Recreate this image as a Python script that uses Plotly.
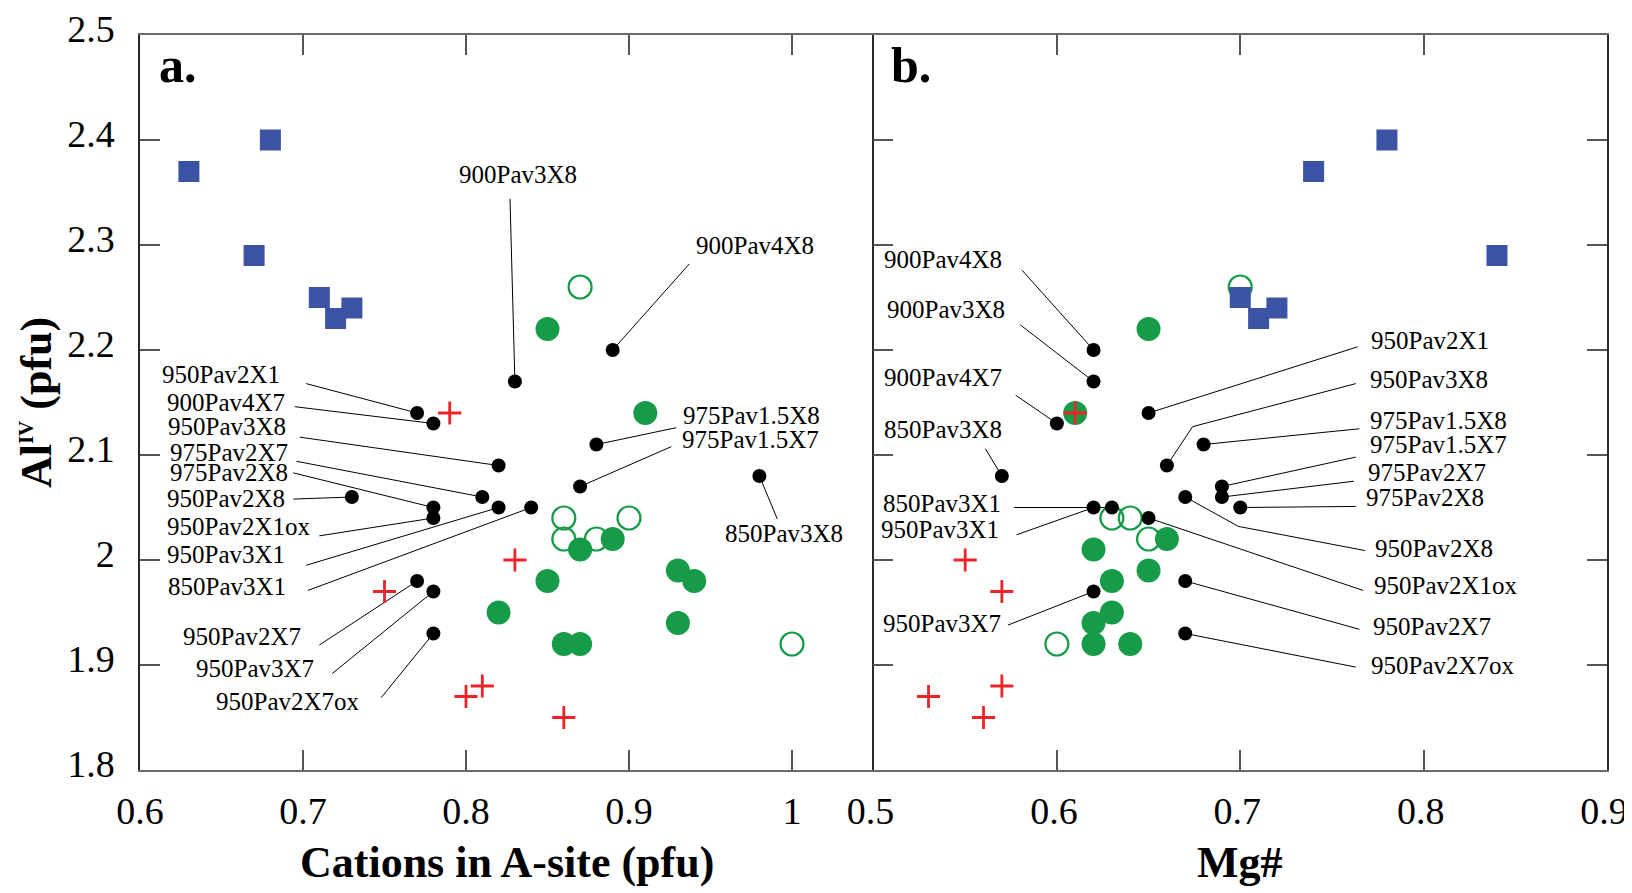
import plotly.graph_objects as go

# ---------------- data ----------------
sample_names = ["900Pav3X8", "900Pav4X8", "950Pav2X1", "900Pav4X7", "950Pav3X8",
                "975Pav2X7", "975Pav2X8", "950Pav2X8", "950Pav2X1ox", "950Pav3X1",
                "850Pav3X1", "950Pav2X7", "950Pav3X7", "950Pav2X7ox", "975Pav1.5X8",
                "975Pav1.5X7", "850Pav3X8"]
sample_cations = [0.83, 0.89, 0.77, 0.78, 0.82, 0.81, 0.78, 0.73, 0.78, 0.82,
                  0.84, 0.77, 0.78, 0.78, 0.88, 0.87, 0.98]
sample_mg = [0.62, 0.62, 0.65, 0.60, 0.66, 0.69, 0.70, 0.67, 0.65, 0.62,
             0.63, 0.67, 0.62, 0.67, 0.68, 0.69, 0.57]
sample_aliv = [2.17, 2.20, 2.14, 2.13, 2.09, 2.06, 2.05, 2.06, 2.04, 2.05,
               2.05, 1.98, 1.97, 1.93, 2.11, 2.07, 2.08]

sq_cations = [0.63, 0.68, 0.67, 0.71, 0.72, 0.73]
sq_mg = [0.74, 0.78, 0.84, 0.70, 0.71, 0.72]
sq_aliv = [2.37, 2.40, 2.29, 2.25, 2.23, 2.24]

gfill_a_cations = [0.85, 0.91, 0.87, 0.89, 0.85, 0.82, 0.93, 0.94, 0.93, 0.86, 0.87]
gfill_a_aliv = [2.22, 2.14, 2.01, 2.02, 1.98, 1.95, 1.99, 1.98, 1.94, 1.92, 1.92]
gopen_a_cations = [0.87, 0.86, 0.90, 0.86, 0.88, 1.00]
gopen_a_aliv = [2.26, 2.04, 2.04, 2.02, 2.02, 1.92]
cross_a_cations = [0.79, 0.83, 0.75, 0.81, 0.80, 0.86]
cross_a_aliv = [2.14, 2.00, 1.97, 1.88, 1.87, 1.85]

gfill_b_mg = [0.65, 0.61, 0.66, 0.62, 0.65, 0.63, 0.63, 0.62, 0.62, 0.64]
gfill_b_aliv = [2.22, 2.14, 2.02, 2.01, 1.99, 1.98, 1.95, 1.94, 1.92, 1.92]
gopen_b_mg = [0.70, 0.63, 0.64, 0.65, 0.60]
gopen_b_aliv = [2.26, 2.04, 2.04, 2.02, 1.92]
cross_b_mg = [0.61, 0.55, 0.57, 0.57, 0.53, 0.56]
cross_b_aliv = [2.14, 2.00, 1.97, 1.88, 1.87, 1.85]

x_a_ticks = [0.6, 0.7, 0.8, 0.9, 1.0]
x_b_ticks = [0.5, 0.6, 0.7, 0.8, 0.9]
y_ticks = [1.8, 1.9, 2.0, 2.1, 2.2, 2.3, 2.4, 2.5]

# ---------------- label layout (text pos, anchor, leader-line waypoints) ----------------
labels_a = {
    "950Pav2X1":   (0.687, 2.177, "right", [(0.702, 2.168)]),
    "900Pav4X7":   (0.690, 2.150, "right", [(0.695, 2.146)]),
    "950Pav3X8":   (0.691, 2.127, "right", [(0.698, 2.117)]),
    "975Pav2X7":   (0.692, 2.102, "right", [(0.696, 2.094)]),
    "975Pav2X8":   (0.692, 2.083, "right", [(0.694, 2.083)]),
    "950Pav2X8":   (0.690, 2.059, "right", [(0.694, 2.058)]),
    "950Pav2X1ox": (0.706, 2.032, "right", [(0.710, 2.023)]),
    "950Pav3X1":   (0.690, 2.005, "right", [(0.702, 1.995)]),
    "850Pav3X1":   (0.691, 1.975, "right", [(0.703, 1.971)]),
    "950Pav2X7":   (0.700, 1.927, "right", [(0.710, 1.919)]),
    "950Pav3X7":   (0.708, 1.897, "right", [(0.718, 1.892)]),
    "950Pav2X7ox": (0.736, 1.865, "right", [(0.748, 1.869)]),
    "900Pav3X8":   (0.832, 2.367, "center", [(0.827, 2.344)]),
    "900Pav4X8":   (0.977, 2.300, "center", [(0.937, 2.282)]),
    "975Pav1.5X8": (0.932, 2.138, "left", [(0.929, 2.126)]),
    "975Pav1.5X7": (0.931, 2.115, "left", [(0.926, 2.108)]),
    "850Pav3X8":   (0.995, 2.025, "center", [(0.991, 2.039)]),
}
labels_b = {
    "900Pav4X8":   (0.5047, 2.286, "left", [(0.581, 2.276)]),
    "900Pav3X8":   (0.5061, 2.239, "left", [(0.580, 2.224)]),
    "900Pav4X7":   (0.5047, 2.174, "left", [(0.5775, 2.157)]),
    "850Pav3X8":   (0.5047, 2.124, "left", [(0.561, 2.106)]),
    "850Pav3X1":   (0.5042, 2.054, "left", [(0.5766, 2.050)]),
    "950Pav3X1":   (0.5028, 2.029, "left", [(0.578, 2.024)]),
    "950Pav3X7":   (0.5042, 1.940, "left", [(0.5733, 1.938)]),
    "950Pav2X1":   (0.7704, 2.209, "left", [(0.764, 2.203)]),
    "950Pav3X8":   (0.7695, 2.172, "left", [(0.763, 2.168), (0.674, 2.127)]),
    "975Pav1.5X8": (0.7695, 2.133, "left", [(0.765, 2.125)]),
    "975Pav1.5X7": (0.7695, 2.110, "left", [(0.763, 2.098)]),
    "975Pav2X7":   (0.7684, 2.083, "left", [(0.762, 2.075)]),
    "975Pav2X8":   (0.7676, 2.060, "left", [(0.763, 2.051)]),
    "950Pav2X8":   (0.7723, 2.011, "left", [(0.768, 2.009), (0.699, 2.032)]),
    "950Pav2X1ox": (0.7718, 1.976, "left", [(0.767, 1.971)]),
    "950Pav2X7":   (0.7712, 1.937, "left", [(0.765, 1.934)]),
    "950Pav2X7ox": (0.7704, 1.900, "left", [(0.763, 1.898)]),
}

SERIF = "Liberation Serif, Times New Roman, serif"
BLUE = "#3a53a4"
GREEN = "#169b48"
RED = "#ee2229"
XLINE = "#6a6a6a"
YLINE = "#2a2a2a"
TICKC = "#555555"

fig = go.Figure()

def add_panel(xv_sq, xv_gopen, y_gopen, xv_gfill, y_gfill, xv_dots, xv_cross, y_cross, xa, ya):
    fig.add_trace(go.Scatter(x=xv_gopen, y=y_gopen, mode="markers", xaxis=xa, yaxis=ya,
                             marker=dict(symbol="circle-open", size=23, color=GREEN,
                                         line=dict(width=2.2, color=GREEN)), showlegend=False))
    fig.add_trace(go.Scatter(x=xv_gfill, y=y_gfill, mode="markers", xaxis=xa, yaxis=ya,
                             marker=dict(symbol="circle", size=24, color=GREEN), showlegend=False))
    fig.add_trace(go.Scatter(x=xv_sq, y=sq_aliv, mode="markers", xaxis=xa, yaxis=ya,
                             marker=dict(symbol="square", size=21, color=BLUE), showlegend=False))
    fig.add_trace(go.Scatter(x=xv_dots, y=sample_aliv, mode="markers", xaxis=xa, yaxis=ya,
                             marker=dict(symbol="circle", size=14, color="black"), showlegend=False))
    fig.add_trace(go.Scatter(x=xv_cross, y=y_cross, mode="markers", xaxis=xa, yaxis=ya,
                             marker=dict(symbol="cross-thin", size=16.5, color=RED,
                                         line=dict(width=2.8, color=RED)), showlegend=False))

add_panel(sq_cations, gopen_a_cations, gopen_a_aliv, gfill_a_cations, gfill_a_aliv,
          sample_cations, cross_a_cations, cross_a_aliv, "x", "y")
add_panel(sq_mg, gopen_b_mg, gopen_b_aliv, gfill_b_mg, gfill_b_aliv,
          sample_mg, cross_b_mg, cross_b_aliv, "x2", "y2")

annotations = []
shapes = []

def add_labels(labels, xvals, xref, yref):
    for name, xv, yv in zip(sample_names, xvals, sample_aliv):
        tx, ty, anchor, pts = labels[name]
        annotations.append(dict(x=tx, y=ty, xref=xref, yref=yref, text=name, showarrow=False,
                                xanchor=anchor, yanchor="middle",
                                font=dict(family=SERIF, size=25, color="black")))
        path = "M {},{}".format(pts[0][0], pts[0][1])
        for px, py in pts[1:]:
            path += " L {},{}".format(px, py)
        path += " L {},{}".format(xv, yv)
        shapes.append(dict(type="path", path=path, xref=xref, yref=yref, layer="below",
                           line=dict(color="black", width=1)))

add_labels(labels_a, sample_cations, "x", "y")
add_labels(labels_b, sample_mg, "x2", "y2")

# panel letters
annotations.append(dict(x=0.0116, y=0.959, xref="paper", yref="paper", text="<b>a.</b>",
                        showarrow=False, xanchor="left", yanchor="middle",
                        font=dict(family=SERIF, size=50, color="black")))
annotations.append(dict(x=0.5106, y=0.959, xref="paper", yref="paper", text="<b>b.</b>",
                        showarrow=False, xanchor="left", yanchor="middle",
                        font=dict(family=SERIF, size=50, color="black")))
# axis titles
annotations.append(dict(x=0.25, y=-0.1265, xref="paper", yref="paper",
                        text="<b>Cations in A-site (pfu)</b>", showarrow=False,
                        xanchor="center", yanchor="middle",
                        font=dict(family=SERIF, size=44, color="black")))
annotations.append(dict(x=0.75, y=-0.1265, xref="paper", yref="paper",
                        text="<b>Mg#</b>", showarrow=False,
                        xanchor="center", yanchor="middle",
                        font=dict(family=SERIF, size=44, color="black")))
annotations.append(dict(x=-0.0705, y=0.5, xref="paper", yref="paper",
                        text="<b>Al<sup><span style='font-size:21px'>IV</span></sup> (pfu)</b>",
                        showarrow=False, textangle=-90,
                        xanchor="center", yanchor="middle",
                        font=dict(family=SERIF, size=44, color="black")))

axis_common = dict(showgrid=False, zeroline=False, showline=True,
                   ticks="inside", ticklen=20, tickwidth=1.5, tickcolor=TICKC,
                   tickfont=dict(family=SERIF, size=38, color="black"))

fig.update_layout(
    width=1624, height=885,
    margin=dict(l=132, r=24.5, t=27, b=123, autoexpand=False),
    paper_bgcolor="white", plot_bgcolor="white",
    xaxis=dict(domain=[0, 0.5], range=[0.6, 1.05], tickvals=x_a_ticks,
               ticktext=["0.6", "0.7", "0.8", "0.9", "1"], mirror="ticks",
               linecolor=XLINE, linewidth=2,
               ticklabelstandoff=6, **axis_common),
    xaxis2=dict(domain=[0.5, 1], range=[0.5, 0.9], tickvals=x_b_ticks,
                ticktext=["0.5", "0.6", "0.7", "0.8", "0.9"], mirror="ticks", anchor="y2",
                linecolor=XLINE, linewidth=2,
                ticklabelstandoff=6, ticklabelshift=-3, **axis_common),
    yaxis=dict(range=[1.8, 2.5], tickvals=y_ticks,
               ticktext=["1.8", "1.9", "2", "2.1", "2.2", "2.3", "2.4", "2.5"],
               mirror=False, anchor="x", linecolor=YLINE, linewidth=1.5,
               ticklabelstandoff=16, ticklabelshift=-6, **axis_common),
    yaxis2=dict(range=[1.8, 2.5], tickvals=y_ticks, showticklabels=False,
                mirror="ticks", anchor="x2", linecolor=YLINE, linewidth=1.5, **axis_common),
    annotations=annotations,
    shapes=shapes,
)

fig.write_html("out.html")
